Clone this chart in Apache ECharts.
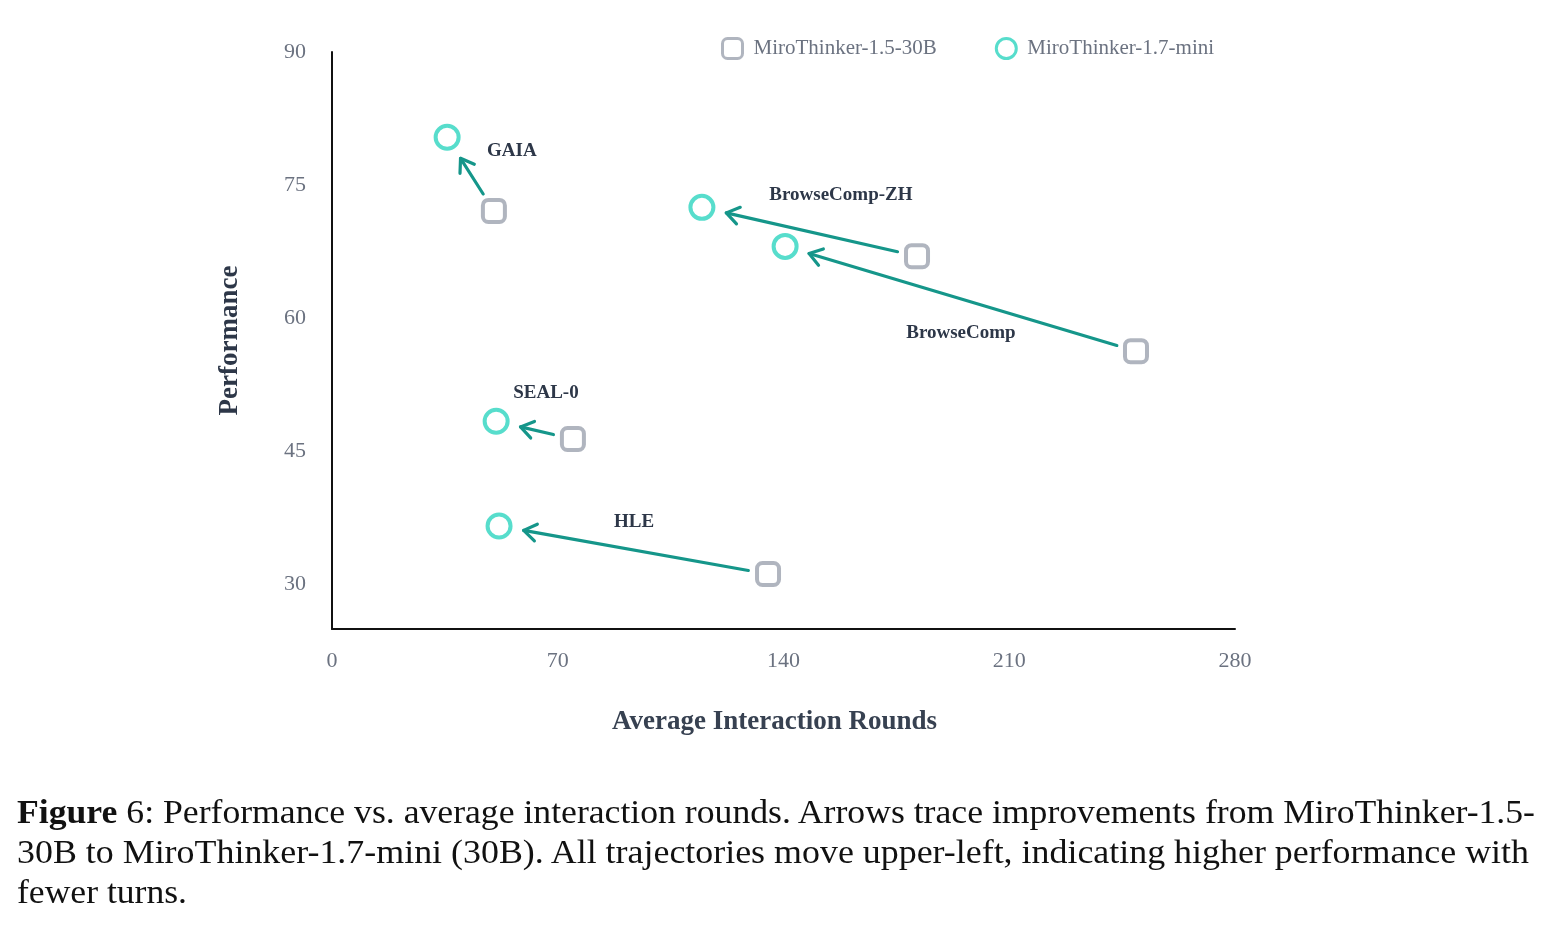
<!DOCTYPE html>
<html>
<head>
<meta charset="utf-8">
<script src="https://cdn.jsdelivr.net/npm/echarts@6/dist/echarts.min.js"></script>
<style>
  html, body { margin: 0; padding: 0; background: #fff; }
  #chart { position: absolute; left: 0; top: 0; width: 1551px; height: 927px; }
  #caption {
    position: absolute; left: 17px; top: 792px; width: 1530px;
    font-family: "Liberation Serif", "DejaVu Serif", serif;
    font-size: 33px; line-height: 40px; color: #111;
  }
  #caption .row { height: 40px; white-space: nowrap; }
  #caption .ln { display: inline-block; white-space: nowrap; transform-origin: left center; }
</style>
</head>
<body>
<div id="chart"></div>
<div id="caption">
  <div class="row"><span class="ln" data-w="1518"><b>Figure</b> 6: Performance vs. average interaction rounds. Arrows trace improvements from MiroThinker-1.5-</span></div>
  <div class="row"><span class="ln" data-w="1512">30B to MiroThinker-1.7-mini (30B). All trajectories move upper-left, indicating higher performance with</span></div>
  <div class="row"><span class="ln" data-w="170">fewer turns.</span></div>
</div>
<script>
// benchmarks and values
const benchmarks = ['GAIA', 'BrowseComp-ZH', 'BrowseComp', 'SEAL-0', 'HLE'];
const oldRounds = [50.2, 181.4, 249.3, 74.7, 135.2];   // MiroThinker-1.5-30B
const oldPerf   = [72.1, 67.0, 56.3, 46.4, 31.2];
const newRounds = [35.7, 114.7, 140.5, 50.9, 51.8];    // MiroThinker-1.7-mini
const newPerf   = [80.4, 72.5, 68.1, 48.4, 36.6];
const yTicks = [30, 45, 60, 75, 90];
const seriesNames = ['MiroThinker-1.5-30B', 'MiroThinker-1.7-mini'];

// label offset (px) from arrow middle
const labelShift = [[40, -25], [29, -37], [-2, 34], [9, -38], [-2, -28]];

const serif = '"Liberation Serif", "DejaVu Serif", serif';
const gray = '#9ca3af';
const teal = '#2dd4bf';
const arrowColor = '#15968a';

const chart = echarts.init(document.getElementById('chart'));

function renderArrow(params, api) {
  const i = params.dataIndex;
  const a = api.coord([api.value(0), api.value(1)]);
  const b = api.coord([api.value(2), api.value(3)]);
  const dx = b[0] - a[0], dy = b[1] - a[1];
  const len = Math.sqrt(dx * dx + dy * dy);
  const ux = dx / len, uy = dy / len;
  const s = [a[0] + ux * 20, a[1] + uy * 20];
  const e = [b[0] - ux * 25, b[1] - uy * 25];
  const head = 15, ang = 0.6;
  const cos = Math.cos(ang), sin = Math.sin(ang);
  const bx = -ux, by = -uy;
  const h1 = [e[0] + head * (bx * cos - by * sin), e[1] + head * (bx * sin + by * cos)];
  const h2 = [e[0] + head * (bx * cos + by * sin), e[1] + head * (-bx * sin + by * cos)];
  const mid = [(s[0] + e[0]) / 2, (s[1] + e[1]) / 2];
  const style = { stroke: arrowColor, lineWidth: 3.2, lineCap: 'round', lineJoin: 'round', fill: null };
  return {
    type: 'group',
    children: [
      { type: 'line', shape: { x1: s[0], y1: s[1], x2: e[0], y2: e[1] }, style: style },
      { type: 'polyline', shape: { points: [h1, e, h2] }, style: style },
      {
        type: 'text',
        x: mid[0] + labelShift[i][0],
        y: mid[1] + labelShift[i][1],
        style: {
          text: benchmarks[i],
          fill: '#2d3748',
          font: 'bold 19px ' + serif,
          align: 'center',
          verticalAlign: 'middle'
        }
      }
    ]
  };
}

chart.setOption({
  animation: false,
  grid: { left: 332, right: 316, top: 52, bottom: 298 },
  legend: {
    top: 37,
    left: 721,
    padding: 0,
    itemWidth: 20,
    itemHeight: 20,
    itemGap: 58,
    textStyle: { fontFamily: serif, fontSize: 21, color: '#6b7280', padding: [0, 0, 0, 6] },
    data: [
      { name: seriesNames[0], icon: 'roundRect',
        itemStyle: { color: '#fff', borderColor: gray, borderWidth: 3 } },
      { name: seriesNames[1], icon: 'circle',
        itemStyle: { color: '#fff', borderColor: teal, borderWidth: 3 } }
    ]
  },
  xAxis: {
    type: 'value',
    min: 0, max: 280, interval: 70,
    name: 'Average Interaction Rounds',
    nameLocation: 'middle',
    nameGap: 80,
    nameTextStyle: { fontFamily: serif, fontSize: 27, fontWeight: 'bold', color: '#374151', padding: [0, 18, 0, 0] },
    axisLine: { show: true, lineStyle: { color: '#111', width: 2 } },
    axisTick: { show: false },
    splitLine: { show: false },
    axisLabel: { fontFamily: serif, fontSize: 22, color: '#6b7280', margin: 21 }
  },
  yAxis: {
    type: 'value',
    min: 25, max: 90,
    name: 'Performance',
    nameLocation: 'middle',
    nameGap: 88,
    nameRotate: 90,
    nameTextStyle: { fontFamily: serif, fontSize: 27, fontWeight: 'bold', color: '#2d3748' },
    axisLine: { show: true, lineStyle: { color: '#111', width: 2 } },
    axisTick: { show: false },
    splitLine: { show: false },
    axisLabel: { fontFamily: serif, fontSize: 22, color: '#6b7280', margin: 26, customValues: yTicks }
  },
  series: [
    {
      type: 'custom',
      name: 'arrows',
      renderItem: renderArrow,
      silent: true,
      dimensions: ['x0', 'y0', 'x1', 'y1'],
      encode: { x: [0, 2], y: [1, 3] },
      data: benchmarks.map((b, i) => [oldRounds[i], oldPerf[i], newRounds[i], newPerf[i]]),
      z: 1
    },
    {
      type: 'scatter',
      name: seriesNames[0],
      symbol: 'roundRect',
      symbolSize: 22,
      itemStyle: { color: '#fff', borderColor: gray, borderWidth: 4 },
      data: oldRounds.map((x, i) => [x, oldPerf[i]]),
      z: 3
    },
    {
      type: 'scatter',
      name: seriesNames[1],
      symbol: 'circle',
      symbolSize: 23,
      itemStyle: { color: '#fff', borderColor: teal, borderWidth: 4 },
      data: newRounds.map((x, i) => [x, newPerf[i]]),
      z: 3
    }
  ]
});

// fit caption lines to their widths in the figure
document.querySelectorAll('#caption .ln').forEach(el => {
  const target = +el.dataset.w;
  const w = el.getBoundingClientRect().width;
  el.style.transform = 'scaleX(' + (target / w) + ')';
});
</script>
</body>
</html>
